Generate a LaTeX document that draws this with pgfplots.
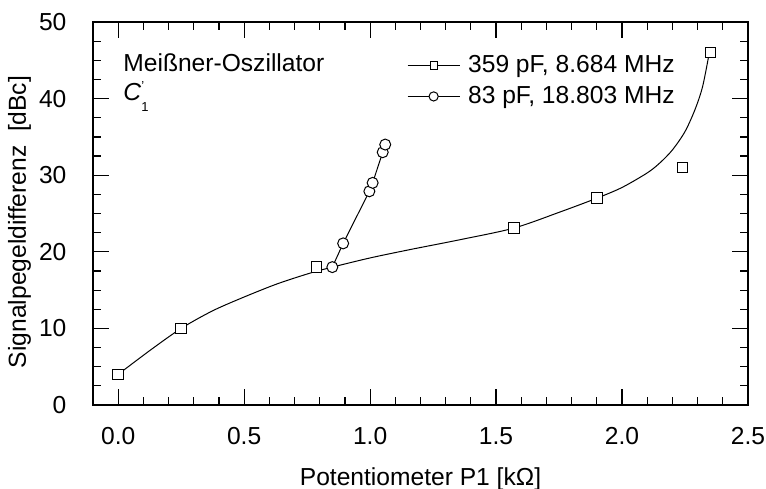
\documentclass[border=0pt]{standalone}
\usepackage{fontspec}
\setmainfont{Liberation Sans}
\usepackage{pgfplots}
\pgfplotsset{compat=1.18}
\begin{document}
\fontsize{12.3}{14.5}\selectfont
\begin{tikzpicture}
\begin{axis}[
  scale only axis, width=327.5pt, height=191.5pt,
  xmin=-0.1, xmax=2.5, ymin=0, ymax=50,
  xtick={0,0.5,1,1.5,2,2.5}, ytick={0,10,20,30,40,50},
  minor x tick num=4, minor y tick num=3,
  tick align=inside,
  major tick length=8pt, minor tick length=4pt,
  every tick/.style={black, line width=0.6pt},
  axis line style={line width=0.75pt},
  /pgf/number format/assume math mode=true,
  x tick label style={/pgf/number format/fixed, /pgf/number format/fixed zerofill, /pgf/number format/precision=1, yshift=-7pt},
  y tick label style={xshift=-9pt},
  xlabel={Potentiometer P1 [kΩ]},
  ylabel={Signalpegeldifferenz\ \ [dBc]},
  xlabel style={at={(axis description cs:0.5,0)}, anchor=base, yshift=-40.25pt},
  ylabel style={at={(axis description cs:0,0.478)}, anchor=base, yshift=33.5pt},
  legend style={draw=none, fill=none, at={(rel axis cs:0.479,0.925)}, anchor=north west, inner sep=0pt, row sep=1pt, column sep=2pt},
  legend cell align=left,
  legend image code/.code={\draw[mark repeat=2,mark phase=2,#1] plot coordinates {(0pt,0pt) (13pt,0pt) (26pt,0pt)};},
  clip=false,
]
% fitted curve for the 359 pF series
\addplot[black, line width=0.5pt, smooth, tension=0.5, forget plot] coordinates {
  (0,4) (0.125,7.1) (0.25,10) (0.375,12.3) (0.5,14.1) (0.63,15.8) (0.76,17.2) (0.85,18.0)
  (1.0,19.2) (1.16,20.3) (1.36,21.6) (1.571,23.1)
  (1.754,25.2) (1.90,27.0) (2.0,28.4) (2.1,30.3) (2.15,31.6) (2.2,33.3)
  (2.25,35.7) (2.29,38.6) (2.32,41.6) (2.347,46.1)
};
% 83 pF line
\addplot[black, line width=0.5pt, forget plot] coordinates {
  (0.85,18) (0.893,21.1) (0.997,27.9) (1.01,29) (1.05,33) (1.06,34)
};
\addplot[only marks, mark=square*, mark size=2.6pt, mark options={fill=white, draw=black, line width=0.5pt}, forget plot] coordinates {
  (0,4) (0.25,10) (0.786,18) (1.571,23.1) (1.90,27) (2.24,31) (2.35,46)
};
\addplot[only marks, mark=*, mark size=2.75pt, mark options={fill=white, draw=black, line width=0.5pt}, forget plot] coordinates {
  (0.85,18) (0.893,21.1) (0.997,27.9) (1.01,29) (1.05,33) (1.06,34)
};
\addlegendimage{black, line width=0.5pt, mark=square*, mark size=1.8pt, mark options={fill=white, draw=black}}
\addlegendentry{359 pF, 8.684 MHz}
\addlegendimage{black, line width=0.5pt, mark=*, mark size=2.3pt, mark options={fill=white, draw=black}}
\addlegendentry{83 pF, 18.803 MHz}
\node[anchor=base west, inner sep=0pt] at (rel axis cs:0.0458,0.872) {Meißner-Oszillator};
\node[anchor=base west, inner sep=0pt] at (rel axis cs:0.0458,0.794) {\textit{C}\makebox[0pt][l]{\raisebox{5pt}{\fontsize{6.5}{7}\selectfont '}}\raisebox{-5.5pt}{\fontsize{6.5}{7}\selectfont 1}};
\end{axis}
\pgfresetboundingbox
\path[use as bounding box] ([xshift=-46.5pt,yshift=-41.5pt]current axis.south west) rectangle ([xshift=9pt,yshift=11pt]current axis.north east);
\end{tikzpicture}
\end{document}
